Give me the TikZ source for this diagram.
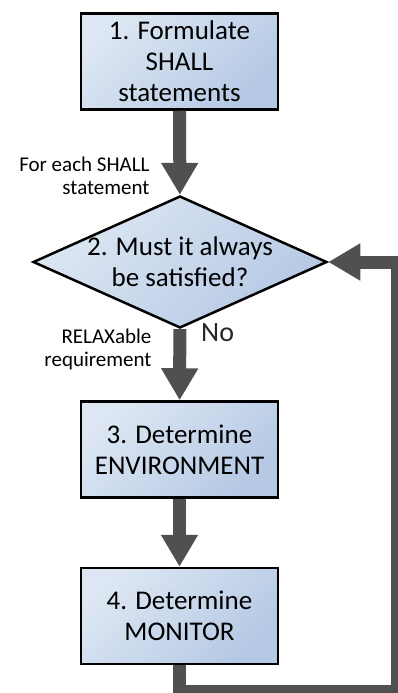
\documentclass[tikz,border=0pt]{standalone}
\usepackage{fontspec}
\setmainfont{Carlito}
\usetikzlibrary{arrows.meta}
\usetikzlibrary{shapes.geometric}
\definecolor{boxlight}{HTML}{DDE7F3}
\definecolor{boxdark}{HTML}{B5C8E4}
\definecolor{flowgray}{HTML}{505050}
\tikzset{>={Triangle[width=35pt,length=32pt]}}
\tikzset{
	stepbox/.style={draw=black,line width=2.5pt,top color=boxlight,bottom color=boxdark,shading angle=45,
		minimum width=197pt,minimum height=96pt,align=center,font=\fontsize{27}{31}\selectfont},
	decision/.style={diamond,draw=black,line width=2.5pt,top color=boxlight,bottom color=boxdark,shading angle=45,
		minimum width=294pt,minimum height=132pt,inner sep=0pt},
	flow/.style={->,flowgray,line width=13pt,line join=miter},
	note/.style={align=right,anchor=east,font=\fontsize{21}{23}\selectfont},
}

\begin{document}
\begin{tikzpicture}[x=1pt,y=-1pt]
			\useasboundingbox (0,0) rectangle (398,693);
			\node[stepbox] (formulate) at (179.5,61.5) {1. Formulate\\SHALL\\statements};
			\node[decision] (must) at (180,262) {};
			\node[align=center,font=\fontsize{27}{31}\selectfont] (musttext) at (must.center) {2. Must it always\\be satisfied?};
			\node[stepbox] (environment) at (179.5,449.5) {3. Determine\\ENVIRONMENT};
			\node[stepbox] (monitor) at (179.5,616) {4. Determine\\MONITOR};
			\coordinate (loopcorner) at (397,691);
			% arrows between the steps
			\draw[flow] (formulate) -- (must);
			\draw[flow] (must) -- (environment);
			\draw[flow] (environment) -- (monitor);
			\draw[flow] (monitor.south) |- (loopcorner) |- (must.east);
			% labels
			\node[note] (foreach) at (153,176) {For each SHALL\\statement};
			\node[note] (relax) at (155,349) {RELAXable\\requirement};
			\node[anchor=west,text=black!85,font=\fontsize{28}{31}\selectfont,inner sep=0pt] (no) at (201,333) {No};
		\end{tikzpicture}
\end{document}
